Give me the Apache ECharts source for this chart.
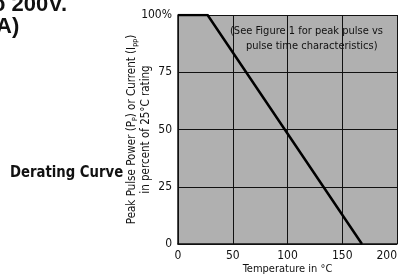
<!DOCTYPE html>
<html>
<head>
<meta charset="utf-8">
<script src="https://cdn.jsdelivr.net/npm/echarts@6/dist/echarts.min.js"></script>
<style>
html, body { margin: 0; padding: 0; background: #fff; }
#chart { width: 400px; height: 276px; }
</style>
</head>
<body>
<div id="chart"></div>
<script>
// derating curve: temperature (°C) vs percent of 25°C rating
var temps = [0, 27, 168];
var percents = [100, 100, 0];
var xTicks = [0, 50, 100, 150, 200];
var yTicks = [0, 25, 50, 75, 100];

var font = '"DejaVu Sans Condensed", "Liberation Sans Narrow", sans-serif';

var option = {
    animation: false,
    backgroundColor: '#fff',
    grid: {
        left: 178,
        right: 3,
        top: 15,
        bottom: 32,
        outerBoundsMode: 'none',
        containLabel: false,
        backgroundColor: '#b0b0b0',
        show: true,
        borderWidth: 0
    },
    xAxis: {
        type: 'value',
        min: xTicks[0],
        max: xTicks[xTicks.length - 1],
        interval: 50,
        name: 'Temperature in °C',
        nameLocation: 'middle',
        nameGap: 20,
        nameMoveOverlap: false,
        nameTextStyle: { color: '#111', fontSize: 11, fontFamily: font },
        axisLine: { show: true, lineStyle: { color: '#111', width: 1.5 } },
        axisTick: { show: false },
        axisLabel: { color: '#111', fontSize: 12, margin: 6, fontFamily: font, alignMaxLabel: 'right' },
        splitLine: { show: true, lineStyle: { color: '#111', width: 1 } }
    },
    yAxis: {
        type: 'value',
        min: yTicks[0],
        max: yTicks[yTicks.length - 1],
        interval: 25,
        name: '{t|Peak Pulse Power (P}{s|P}{t|) or Current (I}{s|pp}{t|)}\n{t|in percent of 25°C rating}',
        nameLocation: 'middle',
        nameRotate: 90,
        nameGap: 25,
        nameMoveOverlap: false,
        nameTextStyle: {
            color: '#111',
            fontFamily: font,
            lineHeight: 14,
            rich: {
                t: { fontSize: 11.5, fontFamily: font, color: '#111', lineHeight: 14 },
                s: { fontSize: 7, fontFamily: font, color: '#111', lineHeight: 14, verticalAlign: 'bottom', padding: [3, 0, 0, 0] }
            }
        },
        axisLine: { show: true, lineStyle: { color: '#111', width: 1.5 } },
        axisTick: { show: false },
        axisLabel: {
            color: '#111',
            fontSize: 12,
            margin: 6,
            fontFamily: font,
            formatter: function (v) { return v === 100 ? '100%' : v; }
        },
        splitLine: { show: true, lineStyle: { color: '#111', width: 1 } }
    },
    series: [{
        type: 'line',
        data: temps.map(function (t, i) { return [t, percents[i]]; }),
        symbol: 'none',
        lineStyle: { color: '#000', width: 2.5 },
        z: 5
    }],
    graphic: [
        {
            type: 'text', left: -8, top: -6,
            style: { text: 'o 200V.', fontSize: 22, fontWeight: 'bold', fontFamily: '"Liberation Sans", sans-serif', fill: '#111' }
        },
        {
            type: 'text', left: -4, top: 16,
            style: { text: 'A)', fontSize: 22, fontWeight: 'bold', fontFamily: '"Liberation Sans", sans-serif', fill: '#111' }
        },
        {
            type: 'text', left: 10, top: 165, scaleX: 0.92,
            style: { text: 'Derating Curve', fontSize: 16, fontWeight: 'bold', fontFamily: font, fill: '#111' }
        },
        {
            type: 'text', left: 230, top: 26, z: 10,
            style: { text: '(See Figure 1 for peak pulse vs', fontSize: 11, fontFamily: font, fill: '#111' }
        },
        {
            type: 'text', left: 246, top: 41, z: 10,
            style: { text: 'pulse time characteristics)', fontSize: 11, fontFamily: font, fill: '#111' }
        }
    ]
};

var chart = echarts.init(document.getElementById('chart'));
chart.setOption(option);
</script>
</body>
</html>
